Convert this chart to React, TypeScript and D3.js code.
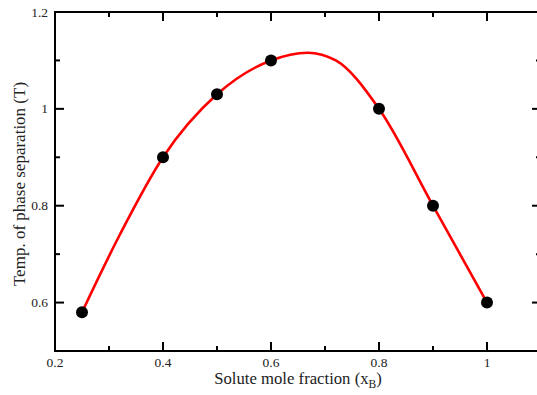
import React from "react";
import * as d3 from "d3";

const xData = [0.25, 0.4, 0.5, 0.6, 0.8, 0.9, 1.0];
const yData = [0.58, 0.9, 1.03, 1.1, 1.0, 0.8, 0.6];

// fitted curve
const fitX = [0.25, 0.32, 0.4, 0.5, 0.6, 0.668, 0.72, 0.8, 0.9, 1.0];
const fitY = [0.58, 0.74, 0.9, 1.03, 1.1, 1.116, 1.1, 1.0, 0.8, 0.6];

const xMajor = [0.2, 0.4, 0.6, 0.8, 1.0];
const xMinor = [0.3, 0.5, 0.7, 0.9, 1.1];
const yMajor = [0.6, 0.8, 1.0, 1.2];
const yMinor = [0.5, 0.7, 0.9, 1.1];

const W = 537, H = 395;
const L = 55, R = 541, T = 12, B = 351;

export default function App() {
  const x = d3.scaleLinear().domain([0.2, 1.1]).range([L, R]);
  const y = d3.scaleLinear().domain([0.5, 1.2]).range([B, T]);
  const line = d3
    .line<number>()
    .x((_, i) => x(fitX[i]))
    .y((d) => y(d))
    .curve(d3.curveMonotoneX);
  const fmt = (v: number) => (v === 1 ? "1" : d3.format("")(+v.toFixed(1)));
  const font = "'Liberation Serif', 'Times New Roman', serif";
  return (
    <svg width={W} height={H} style={{ position: "absolute", left: 0, top: 0 }}>
      <rect x={0} y={0} width={W} height={H} fill="#fff" />
      <path d={line(fitY) || ""} fill="none" stroke="#ff0000" strokeWidth={2.6} />
      {xData.map((v, i) => (
        <circle key={i} cx={x(v)} cy={y(yData[i])} r={6} fill="#000" />
      ))}
      <rect x={L} y={T} width={R - L} height={B - T} fill="none" stroke="#000" strokeWidth={2} />
      {xMajor.map((v) => (
        <g key={"xm" + v}>
          <line x1={x(v)} x2={x(v)} y1={B} y2={B - 9} stroke="#000" strokeWidth={2} />
          <line x1={x(v)} x2={x(v)} y1={T} y2={T + 9} stroke="#000" strokeWidth={2} />
          <text x={x(v)} y={367} textAnchor="middle" fontFamily={font} fontSize={13.5} fill="#222">
            {fmt(v)}
          </text>
        </g>
      ))}
      {xMinor.map((v) => (
        <g key={"xn" + v}>
          <line x1={x(v)} x2={x(v)} y1={B} y2={B - 5} stroke="#000" strokeWidth={2} />
          <line x1={x(v)} x2={x(v)} y1={T} y2={T + 5} stroke="#000" strokeWidth={2} />
        </g>
      ))}
      {yMajor.map((v) => (
        <g key={"ym" + v}>
          <line x1={L} x2={L + 9} y1={y(v)} y2={y(v)} stroke="#000" strokeWidth={2} />
          <line x1={R} x2={R - 9} y1={y(v)} y2={y(v)} stroke="#000" strokeWidth={2} />
          <text x={48} y={y(v) + 4.5} textAnchor="end" fontFamily={font} fontSize={13.5} fill="#222">
            {fmt(v)}
          </text>
        </g>
      ))}
      {yMinor.map((v) => (
        <g key={"yn" + v}>
          <line x1={L} x2={L + 5} y1={y(v)} y2={y(v)} stroke="#000" strokeWidth={2} />
          <line x1={R} x2={R - 5} y1={y(v)} y2={y(v)} stroke="#000" strokeWidth={2} />
        </g>
      ))}
      <text x={298} y={384} textAnchor="middle" fontFamily={font} fontSize={16.7} fill="#222">
        Solute mole fraction (x<tspan fontSize={11.5} dy={4}>B</tspan><tspan dy={-4}>)</tspan>
      </text>
      <text
        transform={`translate(25, 184) rotate(-90)`}
        textAnchor="middle"
        fontFamily={font}
        fontSize={17}
        fill="#222"
      >
        Temp. of phase separation (T)
      </text>
    </svg>
  );
}
